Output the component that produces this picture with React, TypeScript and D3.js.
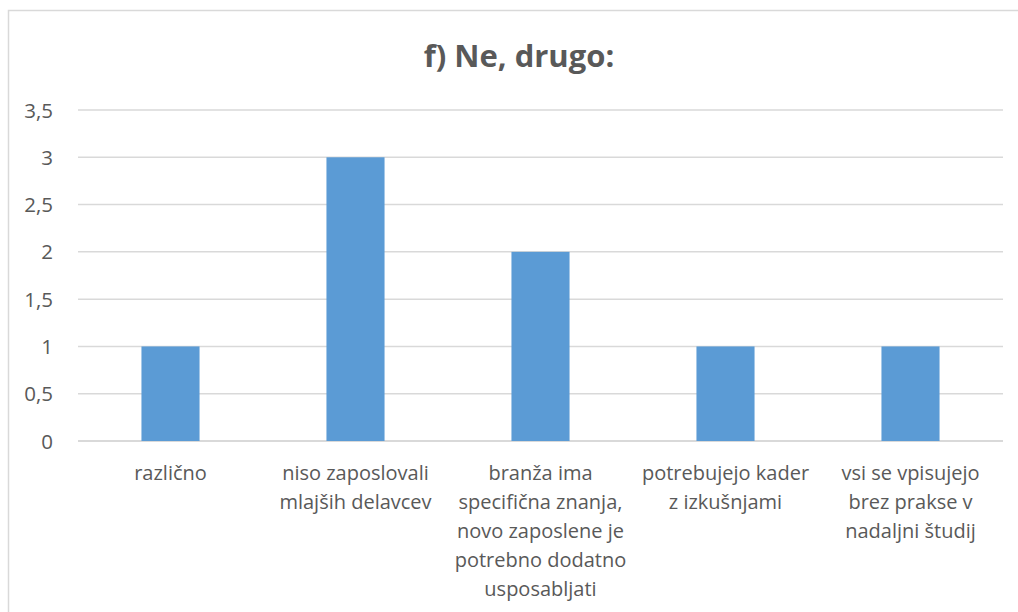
import React from "react";
import * as d3 from "d3";

const categories: string[][] = [
  ["različno"],
  ["niso zaposlovali", "mlajših delavcev"],
  ["branža ima", "specifična znanja,", "novo zaposlene je", "potrebno dodatno", "usposabljati"],
  ["potrebujejo kader", "z izkušnjami"],
  ["vsi se vpisujejo", "brez prakse v", "nadaljni študij"],
];
const values: number[] = [1, 3, 2, 1, 1];
const yTicks: number[] = [0, 0.5, 1, 1.5, 2, 2.5, 3, 3.5];
const title = "f) Ne, drugo:";

const W = 1018;
const H = 612;
const font = "'Open Sans', 'Noto Sans', sans-serif";

export default function App() {
  const x0 = 78, x1 = 1003, yTop = 110, yBot = 441;
  const x = d3.scaleBand<number>().domain(d3.range(values.length)).range([x0, x1]).padding(0);
  const y = d3.scaleLinear().domain([0, 3.5]).range([yBot, yTop]);
  const barW = x.bandwidth() * 0.314;
  const fmt = (v: number) => String(v).replace(".", ",");
  return (
    <svg width={W} height={H} style={{ position: "absolute", left: 0, top: 0 }}>
      <rect x={0} y={0} width={W} height={H} fill="#fff" />
      <rect x={8.5} y={10.5} width={W + 10} height={H + 10} fill="none" stroke="#d9d9d9" strokeWidth={1.5} />
      <text x={519} y={67} textAnchor="middle" fontFamily={font} fontWeight={700} fontSize={31} fill="#595959">
        {title}
      </text>
      {yTicks.map((t) => (
        <g key={t}>
          <line x1={x0} x2={x1} y1={y(t)} y2={y(t)} stroke="#d9d9d9" strokeWidth={t === 0 ? 2 : 1.5} />
          <text x={53} y={y(t) + 7.5} textAnchor="end" fontFamily={font} fontSize={20.5} fill="#595959">
            {fmt(t)}
          </text>
        </g>
      ))}
      {values.map((v, i) => (
        <rect
          key={i}
          x={(x(i) as number) + x.bandwidth() / 2 - barW / 2}
          y={y(v)}
          width={barW}
          height={y(0) - y(v)}
          fill="#5b9bd5"
        />
      ))}
      {categories.map((lines, i) => (
        <text key={i} textAnchor="middle" fontFamily={font} fontSize={20} fill="#595959">
          {lines.map((l, j) => (
            <tspan key={j} x={(x(i) as number) + x.bandwidth() / 2} y={480 + j * 29}>
              {l}
            </tspan>
          ))}
        </text>
      ))}
    </svg>
  );
}
